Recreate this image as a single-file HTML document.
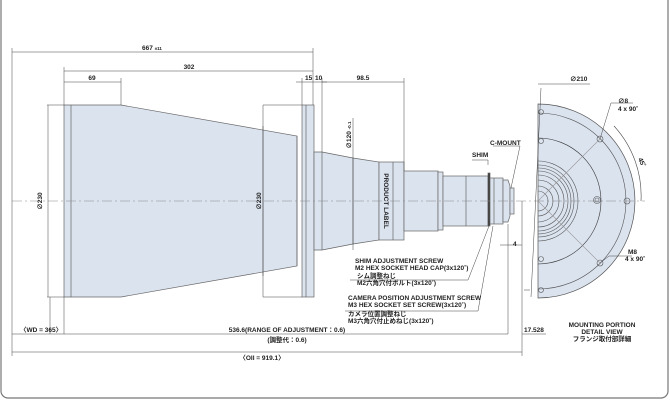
<!DOCTYPE html>
<html><head><meta charset="utf-8"><style>
html,body{margin:0;padding:0;background:#fff;}
svg{display:block;font-family:"Liberation Sans","Noto Sans CJK JP",sans-serif;}
text{font-weight:bold;font-size:6.5px;fill:#222;}
</style></head><body>
<svg width="670" height="400" viewBox="0 0 670 400" xmlns="http://www.w3.org/2000/svg">
<defs><clipPath id="half"><rect x="538" y="90" width="120" height="220"/></clipPath></defs>
<rect x="1" y="-10" width="667" height="408" rx="7" fill="#fff" stroke="#777" stroke-width="1.2"/>
<g fill="#dbe3ef" stroke="#666" stroke-width="0.7">
<path d="M64 105 H121 L297 136 V266 L121 297 H64 Z"/>
<line x1="71" y1="105" x2="71" y2="297"/>
<line x1="263" y1="126" x2="263" y2="276"/>
<line x1="297" y1="136" x2="297" y2="266"/>
<rect x="302" y="105" width="12" height="192"/>
<line x1="306" y1="105" x2="306" y2="297"/>
<path d="M314 152 H322 L353 158 L379 162 V240 L353 244 L322 250 H314 Z"/>
<line x1="322" y1="152" x2="322" y2="250"/>
<line x1="353" y1="158" x2="353" y2="244"/>
<rect x="379" y="162" width="25" height="78"/>
<line x1="393" y1="162" x2="393" y2="240"/>
<rect x="404" y="171" width="34" height="60"/>
<rect x="438" y="172" width="5" height="58"/>
<rect x="443" y="176" width="45" height="50"/>
<line x1="466" y1="176" x2="466" y2="226"/>
<rect x="488" y="173" width="2" height="53" fill="#333"/>
<rect x="490" y="178" width="13" height="46"/>
<line x1="494" y1="178" x2="494" y2="224"/>
<path d="M503 180 H508 L510 186 V216 L508 222 H503 Z"/>
<rect x="510" y="188" width="4" height="26"/>
<path d="M538 104 A97 97 0 0 1 538 298 Z" stroke="#555"/>
</g>
<g fill="none" stroke="#555" stroke-width="0.6" clip-path="url(#half)">
<circle cx="538" cy="201" r="88"/>
<circle cx="538" cy="201" r="63" stroke="#333"/>
<circle cx="538" cy="201" r="40"/><circle cx="538" cy="201" r="36"/><circle cx="538" cy="201" r="33"/>
<circle cx="538" cy="201" r="30"/><circle cx="538" cy="201" r="26"/><circle cx="538" cy="201" r="21"/>
<circle cx="538" cy="201" r="15"/><circle cx="538" cy="201" r="10"/>
<circle cx="541" cy="112" r="2.5"/><circle cx="541" cy="290" r="2.5"/>
<circle cx="541" cy="141" r="2.5"/><circle cx="541" cy="259" r="2.5"/>
</g>
<g fill="none" stroke="#555" stroke-width="0.6">
<circle cx="627" cy="201" r="3"/><circle cx="600" cy="139" r="3"/><circle cx="600" cy="263" r="3"/>
<circle cx="597" cy="200" r="3.5"/><circle cx="597" cy="200" r="2"/>
<line x1="538" y1="201" x2="600" y2="139" stroke="#999"/><line x1="538" y1="201" x2="600" y2="263" stroke="#999"/>
<path d="M614 126 A103 103 0 0 1 641 201" stroke="#444"/>
</g>
<line x1="12" y1="201" x2="645" y2="201" stroke="#888" stroke-width="0.5" stroke-dasharray="10 3 2 3"/>
<g stroke="#444" stroke-width="0.5" fill="none">
<line x1="12" y1="48" x2="12" y2="356"/>
<line x1="64" y1="67" x2="64" y2="105"/>
<line x1="121" y1="78" x2="121" y2="105"/>
<line x1="313" y1="48" x2="313" y2="105"/>
<line x1="302" y1="78" x2="302" y2="105"/>
<line x1="322" y1="78" x2="322" y2="152"/>
<line x1="404" y1="78" x2="404" y2="171"/>
<line x1="64" y1="297" x2="64" y2="334"/>
<line x1="50" y1="297" x2="50" y2="334"/>
<line x1="508" y1="224" x2="508" y2="334"/>
<line x1="522" y1="201" x2="522" y2="356"/>
<line x1="12" y1="52" x2="313" y2="52"/>
<line x1="64" y1="71" x2="313" y2="71"/>
<line x1="64" y1="82" x2="121" y2="82"/>
<line x1="296" y1="82" x2="327" y2="82"/>
<line x1="322" y1="82" x2="404" y2="82"/>
<line x1="47" y1="105" x2="64" y2="105"/><line x1="47" y1="297" x2="64" y2="297"/>
<line x1="48" y1="105" x2="48" y2="297"/>
<line x1="263" y1="105" x2="302" y2="105"/><line x1="263" y1="297" x2="302" y2="297"/>
<line x1="263" y1="105" x2="263" y2="297"/>
<line x1="353" y1="118" x2="353" y2="250"/>
<line x1="12" y1="334" x2="64" y2="334"/>
<line x1="64" y1="334" x2="508" y2="334"/>
<line x1="522" y1="334" x2="546" y2="334"/>
<line x1="12" y1="352" x2="522" y2="352"/>
<line x1="500" y1="245" x2="522" y2="245"/>
<polyline points="488,165 488,160 472,160"/>
<polyline points="511,188 520,146 493,146"/>
<polyline points="489,226 468,280 350,280"/>
<polyline points="493,226 478,311 345,311"/>
<line x1="541" y1="88" x2="531" y2="297"/>
<polyline points="530,290 524,290"/>
<polyline points="600,139 611,103 633,103"/>
<polyline points="600,263 609,256 632,256"/>
<line x1="538" y1="84" x2="590" y2="84"/>
</g>
<g>
<text x="152" y="50" text-anchor="middle">667 <tspan font-size="4.5">±11</tspan></text>
<text x="189" y="69" text-anchor="middle">302</text>
<text x="92" y="80" text-anchor="middle">69</text>
<text x="305" y="80">15</text><text x="315" y="80">10</text>
<text x="363" y="80" text-anchor="middle">98.5</text>
<text x="570" y="81">∅210</text>
<text x="42" y="201" transform="rotate(-90 42 201)" text-anchor="middle">∅230</text>
<text x="261" y="201" transform="rotate(-90 261 201)" text-anchor="middle">∅230</text>
<text x="351" y="135" transform="rotate(-90 351 135)" text-anchor="middle">∅120 <tspan font-size="4.5">-0.1</tspan></text>
<text x="384" y="201" transform="rotate(90 384 201)" text-anchor="middle" font-size="6">PRODUCT LABEL</text>
<text x="490" y="145">C-MOUNT</text>
<text x="472" y="157">SHIM</text>
<text x="513" y="246">4</text>
<text x="618" y="103">∅8</text><text x="618" y="111" font-size="5.5">4 x 90˚</text>
<text x="638" y="159" transform="rotate(65 638 159)">45˚</text>
<text x="628" y="254">M8</text><text x="625" y="261" font-size="5.5">4 x 90˚</text>
<text x="602" y="327" text-anchor="middle" font-size="6">MOUNTING PORTION</text>
<text x="602" y="334" text-anchor="middle" font-size="6">DETAIL VIEW</text>
<text x="602" y="341" text-anchor="middle" font-size="6">フランジ取付部詳細</text>
<text x="355" y="263" font-size="6">SHIM ADJUSTMENT SCREW</text>
<text x="355" y="270" font-size="6">M2 HEX SOCKET HEAD CAP(3x120˚)</text>
<text x="357" y="278" font-size="6">シム調整ねじ</text>
<text x="357" y="285" font-size="6">M2六角穴付ボルト(3x120˚)</text>
<text x="348" y="300" font-size="6">CAMERA POSITION ADJUSTMENT SCREW</text>
<text x="348" y="307" font-size="6">M3 HEX SOCKET SET SCREW(3x120˚)</text>
<text x="348" y="316" font-size="6">カメラ位置調整ねじ</text>
<text x="348" y="323" font-size="6">M3六角穴付止めねじ(3x120˚)</text>
<text x="20" y="332">〈WD = 365〉</text>
<text x="287" y="332" text-anchor="middle" font-size="6">536.6(RANGE OF ADJUSTMENT：0.6)</text>
<text x="287" y="342" text-anchor="middle" font-size="6">(調整代：0.6)</text>
<text x="262" y="360" text-anchor="middle">〈OII = 919.1〉</text>
<text x="524" y="332">17.528</text>
</g>
</svg>
</body></html>
